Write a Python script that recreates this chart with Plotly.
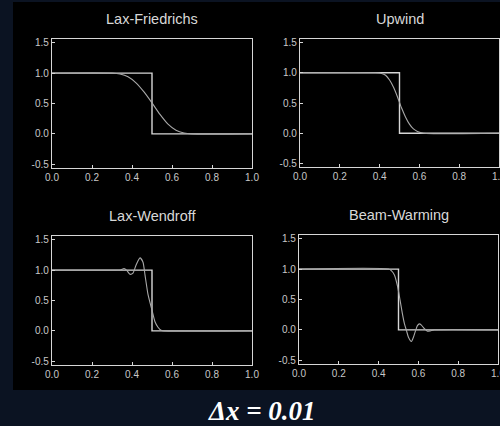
import plotly.graph_objects as go

# ---- data ----
titles = ["Lax-Friedrichs", "Upwind", "Lax-Wendroff", "Beam-Warming"]

exact_x = [0.0, 0.5, 0.5, 1.0]
exact_y = [1.0, 1.0, 0.0, 0.0]

lf_x = [0.0, 0.30, 0.34, 0.38, 0.42, 0.46, 0.50, 0.54, 0.58, 0.62, 0.66, 0.70, 1.0]
lf_y = [1.0, 1.0, 0.985, 0.94, 0.84, 0.69, 0.51, 0.32, 0.16, 0.06, 0.015, 0.0, 0.0]

up_x = [0.0, 0.38, 0.41, 0.43, 0.45, 0.47, 0.49, 0.51, 0.53, 0.55, 0.57, 0.59, 0.62, 1.0]
up_y = [1.0, 1.0, 0.99, 0.96, 0.88, 0.76, 0.60, 0.42, 0.27, 0.15, 0.07, 0.03, 0.0, 0.0]

lw_x = [0.0, 0.32, 0.345, 0.36, 0.375, 0.39, 0.405, 0.42, 0.44, 0.455, 0.465, 0.48, 0.50, 0.515, 0.53, 0.545, 0.56, 1.0]
lw_y = [1.0, 1.0, 1.005, 1.025, 0.99, 0.93, 0.95, 1.08, 1.20, 1.13, 0.92, 0.60, 0.34, 0.15, 0.06, 0.01, 0.0, 0.0]

bw_x = [0.0, 0.45, 0.465, 0.48, 0.495, 0.51, 0.52, 0.53, 0.54, 0.55, 0.565, 0.575, 0.585, 0.595, 0.605, 0.615, 0.63, 0.645, 0.66, 0.68, 1.0]
bw_y = [1.0, 1.0, 0.97, 0.90, 0.72, 0.45, 0.26, 0.10, -0.01, -0.12, -0.19, -0.12, -0.02, 0.07, 0.10, 0.08, 0.02, -0.02, -0.015, 0.0, 0.0]

num_x = [lf_x, up_x, lw_x, bw_x]
num_y = [lf_y, up_y, lw_y, bw_y]

x_ticks = [0.0, 0.2, 0.4, 0.6, 0.8, 1.0]
y_ticks = [-0.5, 0.0, 0.5, 1.0, 1.5]
x_tick_text = ["0.0", "0.2", "0.4", "0.6", "0.8", "1.0"]
y_tick_text = ["-0.5", "0.0", "0.5", "1.0", "1.5"]

# ---- layout geometry (pixels of a 500x426 canvas) ----
W, H = 500, 426
boxes = [  # left, right, top, bottom
    (52, 252, 39, 168),
    (300, 499, 39, 167),
    (52, 252, 236, 365),
    (299, 498, 235, 364),
]
title_y = [19, 19, 216, 215]

LINE = "#d6d6d6"
CURVE = "#a8a8a8"
TEXT = "#c8c8c8"

fig = go.Figure()
layout = dict(
    width=W, height=H,
    margin=dict(l=0, r=0, t=0, b=0, pad=0, autoexpand=False),
    paper_bgcolor="#0b1322",
    plot_bgcolor="#000000",
    showlegend=False,
    font=dict(family="Liberation Sans, Arial, sans-serif", color=TEXT, size=10),
)
annotations = []
for i in range(4):
    l, r, t, b = boxes[i]
    xa = "xaxis" if i == 0 else f"xaxis{i+1}"
    ya = "yaxis" if i == 0 else f"yaxis{i+1}"
    xr = "x" if i == 0 else f"x{i+1}"
    yr = "y" if i == 0 else f"y{i+1}"
    common = dict(showline=True, linecolor=LINE, linewidth=1.3, mirror=True,
                  showgrid=False, zeroline=False, ticks="inside", ticklen=3,
                  tickcolor=LINE, tickwidth=1, tickfont=dict(size=10, color=TEXT),
                  automargin=False, ticklabeloverflow="allow")
    layout[xa] = dict(domain=[l / W, r / W], range=[0, 1], anchor=yr,
                      tickvals=x_ticks, ticktext=x_tick_text, **common)
    layout[ya] = dict(domain=[1 - b / H, 1 - t / H], range=[-0.56, 1.56], anchor=xr,
                      tickvals=y_ticks, ticktext=y_tick_text, **common)
    fig.add_trace(go.Scatter(x=exact_x, y=exact_y, mode="lines", xaxis=xr, yaxis=yr,
                             line=dict(color=LINE, width=1.4), hoverinfo="skip"))
    fig.add_trace(go.Scatter(x=num_x[i], y=num_y[i], mode="lines", xaxis=xr, yaxis=yr,
                             line=dict(color=CURVE, width=1.1, shape="spline", smoothing=0.6),
                             hoverinfo="skip"))
    annotations.append(dict(text=titles[i], x=(l + r) / 2 / W, y=1 - title_y[i] / H,
                            xref="paper", yref="paper", showarrow=False,
                            xanchor="center", yanchor="middle",
                            font=dict(size=14.5, color="#d8d8d8",
                                      family="Liberation Sans, Arial, sans-serif")))

annotations.append(dict(text="<b><i>Δx = 0.01</i></b>", x=262 / W, y=1 - 411 / H,
                        xref="paper", yref="paper", showarrow=False,
                        xanchor="center", yanchor="middle",
                        font=dict(size=27, color="#ffffff",
                                  family="Liberation Serif, Times New Roman, serif")))
layout["annotations"] = annotations
layout["shapes"] = [dict(type="rect", xref="paper", yref="paper",
                         x0=13 / W, x1=1.0, y0=1 - 390 / H, y1=1 - 2 / H,
                         fillcolor="#000000", line=dict(width=0), layer="below")]
fig.update_layout(**layout)
fig.write_html("out.html", config={"displayModeBar": False},
               post_script="document.body.style.margin='0';document.body.style.overflow='hidden';")
